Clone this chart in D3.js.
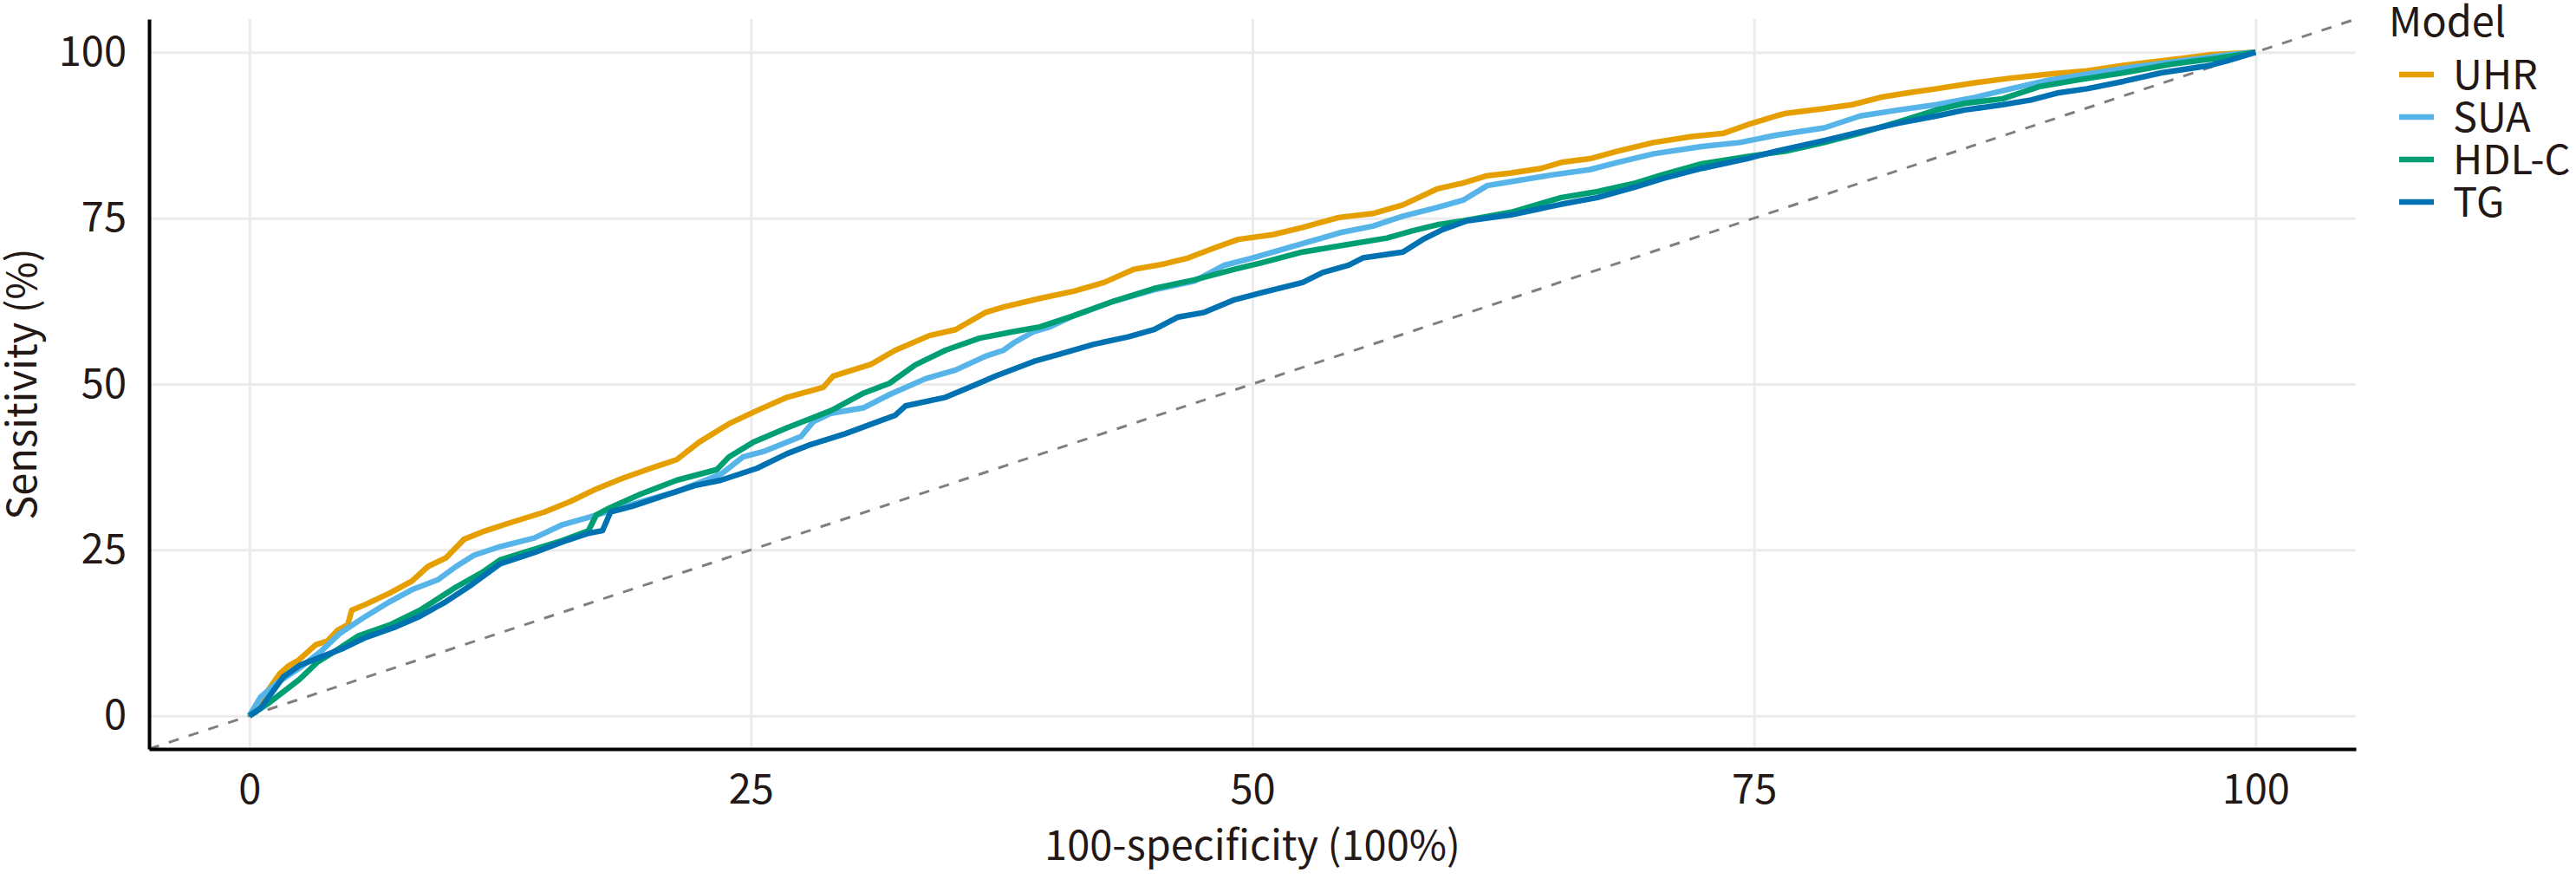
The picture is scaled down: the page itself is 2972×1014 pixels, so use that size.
<!DOCTYPE html>
<html>
<head>
<meta charset="utf-8">
<script src="https://cdn.jsdelivr.net/npm/d3@7"></script>
<style>
  body { margin: 0; background: #fff; }
  svg text { font-family: "Noto Sans CJK SC", "Noto Sans", sans-serif; fill: #231815; }
</style>
</head>
<body>
<svg id="roc" width="2972" height="1014"></svg>
<script>
// ROC curves (100-specificity vs sensitivity, %)
var models = ["UHR", "SUA", "HDL-C", "TG"];
var colors = ["#E69F00", "#56B4E9", "#009E73", "#0072B2"];
var ticks = [0, 25, 50, 75, 100];

var uhrFpr = [0, 0.5, 1.5, 1.9, 2.5, 3.3, 3.9, 4.4, 4.9, 5.1, 5.8, 7.0, 8.1, 8.9, 9.8, 10.7, 11.6, 12.9, 14.7, 16.0, 17.3, 18.6, 20.0, 21.3, 22.4, 23.9, 25.3, 26.8, 28.6, 29.1, 31.0, 32.2, 33.9, 35.2, 36.7, 37.6, 39.4, 41.1, 42.6, 44.1, 45.6, 46.8, 48.1, 49.3, 51.0, 52.5, 54.3, 56.0, 57.5, 59.2, 60.5, 61.7, 62.9, 64.4, 65.4, 66.9, 68.2, 70.0, 71.9, 73.5, 74.7, 76.1, 76.6, 78.5, 79.9, 81.3, 82.7, 84.1, 86.0, 87.8, 89.7, 91.6, 93.4, 95.3, 97.7, 100];
var uhrTpr = [0, 2.0, 6.3, 7.4, 8.5, 10.7, 11.3, 12.9, 13.7, 15.9, 16.8, 18.5, 20.3, 22.5, 23.8, 26.6, 27.7, 29.0, 30.7, 32.3, 34.2, 35.8, 37.3, 38.6, 41.2, 44.0, 46.0, 48.0, 49.5, 51.2, 53.0, 55.1, 57.3, 58.2, 60.8, 61.6, 62.9, 64.0, 65.3, 67.3, 68.1, 69.0, 70.5, 71.8, 72.5, 73.6, 75.1, 75.7, 77.0, 79.4, 80.3, 81.4, 81.8, 82.5, 83.4, 84.0, 85.1, 86.4, 87.3, 87.8, 89.1, 90.4, 90.8, 91.5, 92.1, 93.2, 93.9, 94.5, 95.4, 96.1, 96.7, 97.2, 98.0, 98.7, 99.6, 100];

var suaFpr = [0, 0.55, 1.4, 2.5, 3.6, 4.5, 5.8, 7.0, 8.1, 9.4, 10.3, 11.2, 12.5, 14.2, 15.6, 16.9, 19.8, 21.3, 23.5, 24.6, 25.7, 27.5, 28.1, 29.0, 30.6, 31.9, 33.7, 35.2, 36.7, 37.6, 38.1, 39.1, 39.9, 41.1, 43.1, 45.1, 47.1, 48.6, 50.0, 51.5, 53.0, 54.5, 56.0, 57.5, 59.2, 60.5, 61.7, 62.9, 64.9, 66.8, 68.2, 70.0, 72.4, 74.3, 76.1, 78.5, 80.3, 82.2, 84.1, 86.0, 87.8, 89.7, 91.6, 93.9, 96.3, 98.6, 100];
var suaTpr = [0, 2.8, 5.0, 7.2, 9.8, 12.4, 15.0, 17.2, 19.0, 20.5, 22.5, 24.2, 25.5, 26.8, 28.8, 29.9, 32.5, 33.8, 36.4, 39.0, 39.9, 42.1, 44.3, 45.6, 46.4, 48.4, 50.8, 52.1, 54.2, 55.1, 56.2, 57.9, 58.6, 60.3, 62.5, 64.2, 65.5, 67.9, 69.0, 70.3, 71.6, 72.9, 73.8, 75.3, 76.6, 77.7, 79.9, 80.5, 81.5, 82.3, 83.4, 84.7, 85.8, 86.4, 87.5, 88.6, 90.4, 91.3, 92.1, 93.2, 94.5, 95.8, 96.7, 97.8, 98.7, 99.6, 100];

var hdlFpr = [0, 1.0, 1.9, 2.5, 3.4, 4.3, 5.4, 7.0, 8.5, 10.3, 11.6, 12.5, 14.2, 15.6, 16.9, 17.3, 18.0, 19.5, 21.3, 23.3, 23.9, 25.1, 26.8, 29.0, 30.6, 31.9, 33.2, 34.7, 36.4, 38.1, 39.4, 41.1, 43.1, 45.1, 47.1, 49.1, 50.5, 52.5, 54.5, 56.7, 58.0, 59.2, 60.5, 62.9, 65.4, 67.2, 69.1, 70.5, 72.4, 74.7, 76.6, 78.5, 80.3, 82.2, 84.1, 85.5, 87.4, 89.2, 91.1, 93.4, 95.8, 98.1, 100];
var hdlTpr = [0, 2.0, 4.1, 5.5, 8.1, 9.8, 12.0, 13.7, 15.9, 19.4, 21.6, 23.5, 25.1, 26.4, 27.9, 30.3, 31.4, 33.4, 35.5, 37.1, 39.0, 41.2, 43.4, 46.0, 48.6, 50.1, 52.9, 55.1, 56.9, 57.9, 58.6, 60.3, 62.5, 64.4, 65.7, 67.3, 68.3, 69.9, 70.9, 72.0, 73.1, 74.0, 74.6, 75.9, 78.1, 79.0, 80.3, 81.6, 83.2, 84.3, 85.1, 86.4, 87.8, 89.5, 91.3, 92.3, 93.0, 94.8, 95.8, 96.9, 98.2, 99.1, 100];

var tgFpr = [0, 0.55, 1.7, 2.5, 3.6, 4.7, 5.8, 7.2, 8.5, 9.8, 11.1, 12.5, 14.2, 15.6, 16.9, 17.6, 18.0, 19.1, 20.4, 22.2, 23.5, 25.3, 26.8, 27.9, 29.7, 32.2, 32.7, 34.7, 36.2, 37.2, 39.1, 40.6, 42.1, 43.8, 45.1, 46.3, 47.6, 49.1, 50.5, 52.5, 53.5, 54.8, 55.5, 57.5, 58.5, 59.5, 60.7, 62.9, 65.4, 67.2, 69.1, 70.5, 72.4, 74.7, 76.1, 78.5, 80.3, 82.2, 84.1, 85.5, 87.4, 88.8, 90.2, 91.6, 93.4, 95.3, 97.7, 98.6, 100];
var tgTpr = [0, 1.1, 5.9, 7.6, 8.9, 10.2, 11.8, 13.3, 15.0, 17.2, 19.8, 22.9, 24.6, 26.2, 27.5, 27.9, 30.7, 31.6, 32.9, 34.7, 35.5, 37.3, 39.5, 40.8, 42.5, 45.3, 46.7, 48.0, 49.9, 51.2, 53.4, 54.7, 56.0, 57.1, 58.2, 60.1, 60.8, 62.7, 63.8, 65.3, 66.8, 67.9, 69.0, 69.9, 71.8, 73.3, 74.6, 75.5, 77.1, 78.1, 79.7, 81.0, 82.5, 84.0, 85.1, 86.7, 88.0, 89.3, 90.4, 91.3, 92.1, 92.8, 93.9, 94.5, 95.6, 96.9, 98.0, 98.7, 100];

var fprs = [uhrFpr, suaFpr, hdlFpr, tgFpr];
var tprs = [uhrTpr, suaTpr, hdlTpr, tgTpr];

var svg = d3.select("#roc");
var pLeft = 172, pRight = 2718, pTop = 22, pBottom = 864;

var x = d3.scaleLinear().domain([-5, 105]).range([pLeft, pRight]);
var y = d3.scaleLinear().domain([-5, 105]).range([pBottom, pTop]);

// grid
svg.append("g")
  .attr("transform", "translate(0," + pBottom + ")")
  .call(d3.axisBottom(x).tickValues(ticks).tickSize(-(pBottom - pTop)).tickFormat(""))
  .call(function(g){ g.select(".domain").remove(); })
  .selectAll("line").attr("stroke", "#ebebeb").attr("stroke-width", 3);
svg.append("g")
  .attr("transform", "translate(" + pLeft + ",0)")
  .call(d3.axisLeft(y).tickValues(ticks).tickSize(-(pRight - pLeft)).tickFormat(""))
  .call(function(g){ g.select(".domain").remove(); })
  .selectAll("line").attr("stroke", "#ebebeb").attr("stroke-width", 3);

// diagonal reference
svg.append("line")
  .attr("x1", x(-5)).attr("y1", y(-5))
  .attr("x2", x(105)).attr("y2", y(105))
  .attr("stroke", "#7f7f7f")
  .attr("stroke-width", 3)
  .attr("stroke-dasharray", "12,12");

var line = d3.line()
  .x(function(d){ return x(d[0]); })
  .y(function(d){ return y(d[1]); });

for (var i = 0; i < models.length; i++) {
  var pts = fprs[i].map(function(v, j){ return [v, tprs[i][j]]; });
  svg.append("path")
    .datum(pts)
    .attr("d", line)
    .attr("fill", "none")
    .attr("stroke", colors[i])
    .attr("stroke-width", 6.5)
    .attr("stroke-linejoin", "round");
}

// axes
var xAxis = svg.append("g")
  .attr("transform", "translate(0," + pBottom + ")")
  .call(d3.axisBottom(x).tickValues(ticks).tickSize(0).tickPadding(30));
var yAxis = svg.append("g")
  .attr("transform", "translate(" + pLeft + ",0)")
  .call(d3.axisLeft(y).tickValues(ticks).tickSize(0).tickPadding(26));
[xAxis, yAxis].forEach(function(g){
  g.select(".domain").attr("stroke", "#000").attr("stroke-width", 4);
  g.selectAll("text").attr("font-size", 47).attr("font-family", null);
});

svg.append("text")
  .attr("x", (pLeft + pRight) / 2)
  .attr("y", 992)
  .attr("text-anchor", "middle")
  .attr("font-size", 47)
  .text("100-specificity (100%)");

svg.append("text")
  .attr("transform", "translate(42," + (pTop + pBottom) / 2 + ") rotate(-90)")
  .attr("text-anchor", "middle")
  .attr("font-size", 47)
  .text("Sensitivity (%)");

// legend
svg.append("text")
  .attr("x", 2756)
  .attr("y", 42)
  .attr("font-size", 47)
  .text("Model");
for (var k = 0; k < models.length; k++) {
  svg.append("line")
    .attr("x1", 2768).attr("x2", 2808)
    .attr("y1", 86 + 49 * k).attr("y2", 86 + 49 * k)
    .attr("stroke", colors[k])
    .attr("stroke-width", 6.5);
  svg.append("text")
    .attr("x", 2830)
    .attr("y", 86 + 49 * k)
    .attr("dy", "0.36em")
    .attr("font-size", 47)
    .text(models[k]);
}
</script>
</body>
</html>
